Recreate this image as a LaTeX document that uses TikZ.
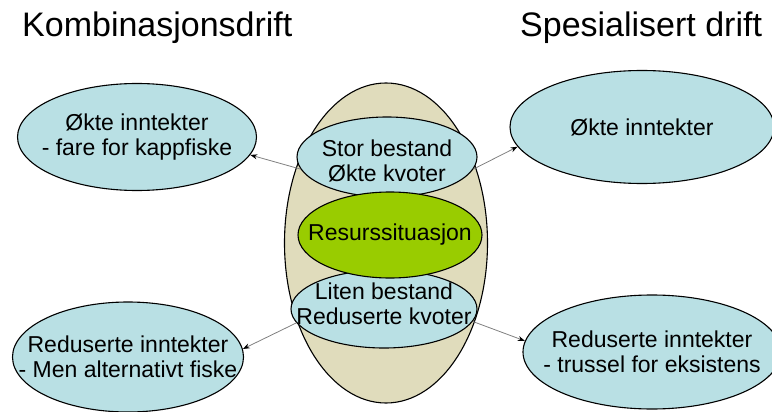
\documentclass[tikz,border=0pt]{standalone}
\usepackage{fontspec}
\setmainfont{Liberation Sans}
\usetikzlibrary{shapes.geometric, arrows.meta}
\definecolor{isblue}{RGB}{185,224,228}
\definecolor{sand}{RGB}{224,220,188}
\definecolor{gress}{RGB}{153,204,0}

\begin{document}
\begin{tikzpicture}[x=1pt, y=-1pt]
% Define styles
\tikzstyle{blob} = [ellipse, draw=black, line width=1.1pt, fill=isblue, inner sep=0pt]
\tikzstyle{txt} = [align=center, inner sep=0pt, font=\fontsize{23}{25}\selectfont]
\tikzstyle{title} = [anchor=base west, inner sep=0pt, font=\fontsize{34}{40}\selectfont]
\tikzstyle{arrow} = [draw=gray, line width=0.8pt, -{Stealth[length=7pt, width=5pt, black]}]
\useasboundingbox (0,0) rectangle (772,412);
% Titles
\node (tkombi) [title] at (22,37) {Kombinasjonsdrift};
\node (tspes) [title] at (520,37) {Spesialisert drift};
% Centre
\node (bestand) [blob, fill=sand, minimum width=203pt, minimum height=320pt] at (386,243) {};
\node (stor) [blob, minimum width=180pt, minimum height=80pt, label={[txt, yshift=-3.5pt]center:{Stor bestand\\Økte kvoter}}] at (387,157) {};
\node (liten) [blob, minimum width=186pt, minimum height=78pt, label={[txt, yshift=5pt]center:{Liten bestand\\Reduserte kvoter}}] at (384,309) {};
\node (ressurs) [blob, fill=gress, minimum width=184pt, minimum height=86pt, label={[txt]center:Resurssituasjon}] at (390,235) {};
% Outcomes
\node (kombi1) [blob, minimum width=239pt, minimum height=107pt, label={[txt]center:{Økte inntekter\\- fare for kappfiske}}] at (137,137) {};
\node (kombi2) [blob, minimum width=231pt, minimum height=110pt, label={[txt]center:{Reduserte inntekter\\- Men alternativt fiske}}] at (128,357) {};
\node (spes1) [blob, minimum width=264pt, minimum height=113pt, label={[txt]center:Økte inntekter}] at (642,127) {};
\node (spes2) [blob, minimum width=258pt, minimum height=114pt, label={[txt]center:{Reduserte inntekter\\- trussel for eksistens}}] at (652,352) {};
% Draw arrows
\draw [arrow] (stor.188) -- (kombi1.351);
\draw [arrow] (stor.-8) -- (spes1.189);
\draw [arrow] (liten.189) -- (kombi2.4);
\draw [arrow] (liten.-8) -- (spes2.175);
\end{tikzpicture}
\end{document}
